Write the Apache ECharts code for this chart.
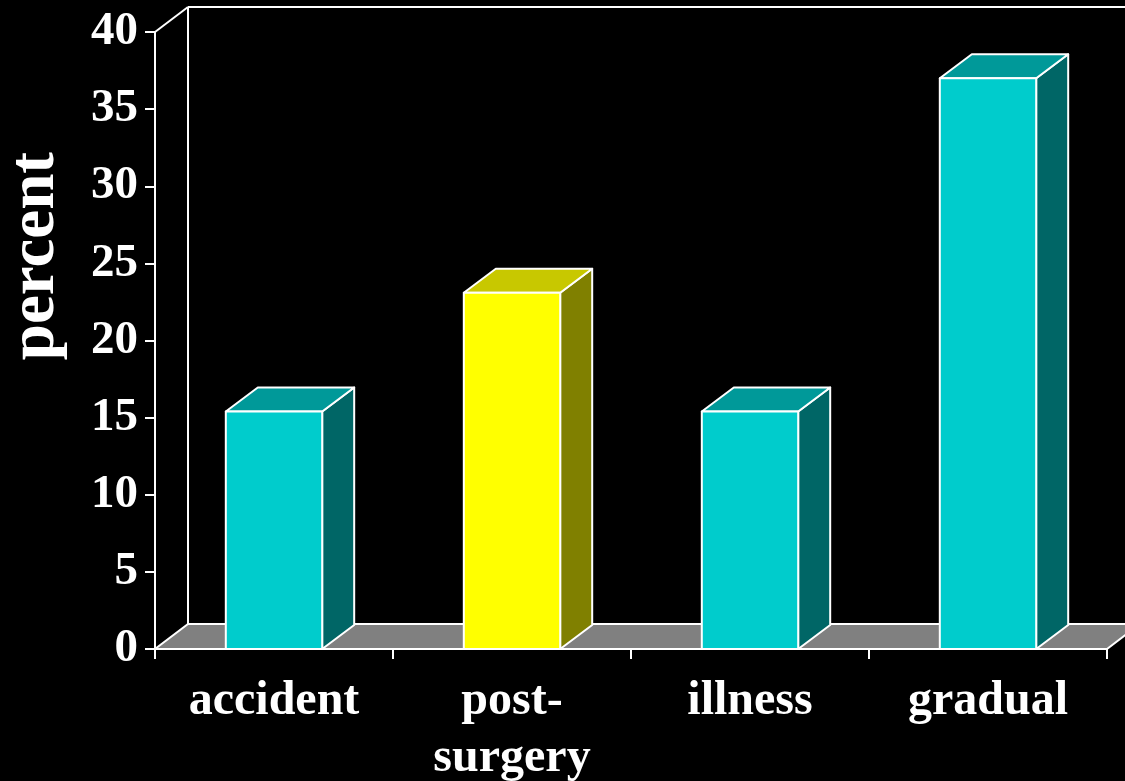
<!DOCTYPE html>
<html>
<head>
<meta charset="utf-8">
<script src="https://cdn.jsdelivr.net/npm/echarts@6/dist/echarts.min.js"></script>
<style>
  html, body { margin: 0; padding: 0; background: #000; }
  #chart { width: 1125px; height: 781px; }
</style>
</head>
<body>
<div id="chart"></div>
<script>
// Onset categories and their share in percent
const categories = ['accident', 'post-\nsurgery', 'illness', 'gradual'];
const values = [15.4, 23.1, 15.4, 37.0];
const tones = ['teal', 'gold', 'teal', 'teal'];
const yTicks = { min: 0, max: 40, step: 5 };
const yTitle = 'percent';

// Face shades for the 3D boxes: front, top, side
const shades = {
  teal: { front: '#00CCCC', top: '#009999', side: '#006666' },
  gold: { front: '#FFFF00', top: '#C8C800', side: '#808000' }
};
const DEPTH = [32, -24];      // bar extrusion offset (px)
const WALL = [33, -25];       // back wall / floor offset (px)
const BAR_RATIO = 0.405;
const EDGE = '#FFFFFF';
const FONT = '"Liberation Serif", "Times New Roman", serif';

const chart = echarts.init(document.getElementById('chart'), null, { renderer: 'canvas' });

// Back wall outline and floor slab, derived from the grid rectangle
function renderFrame(params, api) {
  if (params.dataIndex !== 0) return null;
  const cs = params.coordSys;
  const L = cs.x, R = cs.x + cs.width, T = cs.y, B = cs.y + cs.height;
  const [dx, dy] = WALL;
  const line = (x1, y1, x2, y2) => ({
    type: 'line',
    shape: { x1, y1, x2, y2 },
    style: { stroke: EDGE, lineWidth: 2 }
  });
  return {
    type: 'group',
    children: [
      {
        type: 'polygon',
        shape: { points: [[L, B], [R, B], [R + dx, B + dy], [L + dx, B + dy]] },
        style: { fill: '#808080', stroke: EDGE, lineWidth: 2 }
      },
      line(L + dx, T + dy, L + dx, B + dy),
      line(L + dx, T + dy, R + dx + 40, T + dy),
      line(L, T, L + dx, T + dy)
    ]
  };
}

// Extruded bar: front rectangle, top and right side faces
function renderBar(params, api) {
  const i = api.value(0);
  const v = api.value(1);
  const base = api.coord([i, 0]);
  const top = api.coord([i, v]);
  const w = api.size([1, 0])[0] * BAR_RATIO;
  const x0 = base[0] - w / 2, x1 = base[0] + w / 2;
  const y0 = base[1], y1 = top[1];
  const [dx, dy] = DEPTH;
  const c = shades[tones[params.dataIndex]];
  const edge = { stroke: EDGE, lineWidth: 2, lineJoin: 'round' };
  return {
    type: 'group',
    children: [
      {
        type: 'polygon',
        shape: { points: [[x1, y0], [x1 + dx, y0 + dy], [x1 + dx, y1 + dy], [x1, y1]] },
        style: Object.assign({ fill: c.side }, edge)
      },
      {
        type: 'polygon',
        shape: { points: [[x0, y1], [x1, y1], [x1 + dx, y1 + dy], [x0 + dx, y1 + dy]] },
        style: Object.assign({ fill: c.top }, edge)
      },
      {
        type: 'rect',
        shape: { x: x0, y: y1, width: w, height: y0 - y1 },
        style: Object.assign({ fill: c.front }, edge)
      }
    ]
  };
}

chart.setOption({
  backgroundColor: '#000000',
  animation: false,
  grid: { left: 155, right: 18, top: 32, bottom: 132, containLabel: false, outerBoundsMode: 'none' },
  xAxis: {
    type: 'category',
    data: categories,
    boundaryGap: true,
    axisLine: { show: true, lineStyle: { color: EDGE, width: 2 } },
    axisTick: { show: true, length: 10, alignWithLabel: false, lineStyle: { color: EDGE, width: 2 } },
    axisLabel: {
      color: '#FFFFFF',
      fontFamily: FONT,
      fontWeight: 'bold',
      fontSize: 48,
      lineHeight: 57,
      margin: 24,
      interval: 0
    },
    splitLine: { show: false },
    z: 10
  },
  yAxis: {
    type: 'value',
    min: yTicks.min,
    max: yTicks.max,
    interval: yTicks.step,
    axisLine: { show: true, lineStyle: { color: EDGE, width: 2 } },
    axisTick: { show: true, length: 10, lineStyle: { color: EDGE, width: 2 } },
    axisLabel: {
      color: '#FFFFFF',
      fontFamily: FONT,
      fontWeight: 'bold',
      fontSize: 47,
      margin: 17
    },
    splitLine: { show: false },
    z: 10
  },
  graphic: [
    {
      type: 'text',
      left: 4,
      top: 152,
      rotation: Math.PI / 2,
      style: {
        text: yTitle,
        fill: '#FFFFFF',
        font: 'bold 65px ' + FONT
      }
    }
  ],
  series: [
    {
      type: 'custom',
      renderItem: renderFrame,
      data: [[0, 0]],
      silent: true,
      clip: false,
      z: 1
    },
    {
      type: 'custom',
      renderItem: renderBar,
      data: values.map((v, i) => [i, v]),
      clip: false,
      z: 2
    }
  ]
});
</script>
</body>
</html>
